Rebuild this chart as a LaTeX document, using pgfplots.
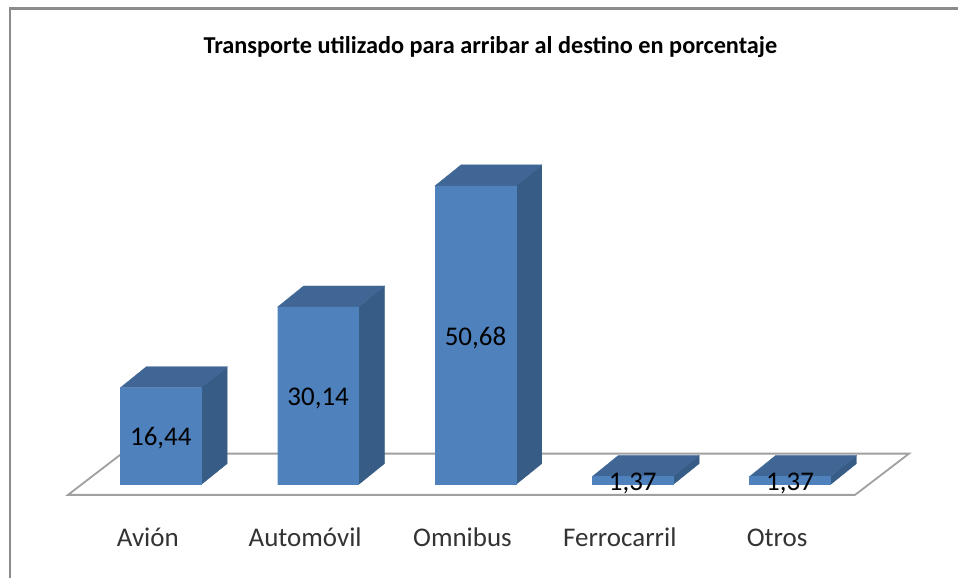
\documentclass[border=0pt]{standalone}
\usepackage{pgfplots}
\pgfplotsset{compat=1.18}
\usepackage{fontspec}
\setmainfont{Carlito}
\definecolor{barfront}{HTML}{4F81BD}
\definecolor{bartop}{HTML}{406695}
\definecolor{barside}{HTML}{375C85}
\definecolor{floorline}{HTML}{A0A0A0}
\definecolor{framegray}{HTML}{8C8C8C}
\begin{document}
\begin{tikzpicture}
\begin{axis}[
  scale only axis, width=959pt, height=579pt,
  xmin=-1.0222, xmax=5.0667, ymin=-15.93, ymax=82.2,
  axis line style={draw=none},
  major tick length=0pt,
  ytick=\empty,
  xtick={0,1,2,3,4},
  xticklabels={Avión,Automóvil,Omnibus,Ferrocarril,Otros},
  xticklabel style={anchor=center, yshift=41pt, xshift=-13pt, font=\fontsize{27}{29}\selectfont, text=black!80},
  clip=false,
]
% frame
\addplot[draw=framegray, line width=2.2pt, forget plot] coordinates {(-0.959,-15.93) (-0.959,80.76) (5.0667,80.76)};
% floor
\addplot[draw=floorline, line width=1.8pt, fill=white] coordinates {(-0.590,-1.75) (4.413,-1.75) (4.756,5.25) (-0.248,5.25)} -- cycle;
% side faces
\addplot[draw=barside, line width=0.3pt, fill=barside] coordinates {(0.257,0) (0.422,3.56) (0.422,20.00) (0.257,16.44)} -- cycle;
\addplot[draw=barside, line width=0.3pt, fill=barside] coordinates {(1.257,0) (1.422,3.56) (1.422,33.70) (1.257,30.14)} -- cycle;
\addplot[draw=barside, line width=0.3pt, fill=barside] coordinates {(2.257,0) (2.422,3.56) (2.422,54.24) (2.257,50.68)} -- cycle;
\addplot[draw=barside, line width=0.3pt, fill=barside] coordinates {(3.257,0) (3.422,3.56) (3.422,4.93) (3.257,1.37)} -- cycle;
\addplot[draw=barside, line width=0.3pt, fill=barside] coordinates {(4.257,0) (4.422,3.56) (4.422,4.93) (4.257,1.37)} -- cycle;
% top faces
\addplot[draw=bartop, line width=0.3pt, fill=bartop] coordinates {(-0.257,16.44) (0.257,16.44) (0.422,20.00) (-0.092,20.00)} -- cycle;
\addplot[draw=bartop, line width=0.3pt, fill=bartop] coordinates {(0.743,30.14) (1.257,30.14) (1.422,33.70) (0.908,33.70)} -- cycle;
\addplot[draw=bartop, line width=0.3pt, fill=bartop] coordinates {(1.743,50.68) (2.257,50.68) (2.422,54.24) (1.908,54.24)} -- cycle;
\addplot[draw=bartop, line width=0.3pt, fill=bartop] coordinates {(2.743,1.37) (3.257,1.37) (3.422,4.93) (2.908,4.93)} -- cycle;
\addplot[draw=bartop, line width=0.3pt, fill=bartop] coordinates {(3.743,1.37) (4.257,1.37) (4.422,4.93) (3.908,4.93)} -- cycle;
% front faces
\addplot[ybar, bar width=81pt, bar shift=0pt, draw=barfront, line width=0.3pt, fill=barfront] coordinates {(0,16.44) (1,30.14) (2,50.68) (3,1.37) (4,1.37)};
% data labels, centred on the bars
\addplot[only marks, mark=none, nodes near coords, point meta=explicit symbolic,
  every node near coord/.style={anchor=center, yshift=-2.5pt, font=\fontsize{27}{29}\selectfont, text=black}]
  table[meta=label, row sep=\\] {
  x y label\\
  0 8.22 {16,44}\\
  1 15.07 {30,14}\\
  2 25.34 {50,68}\\
  3 0.685 {1,37}\\
  4 0.685 {1,37}\\
};
\node[font=\bfseries\fontsize{24.3}{27}\selectfont, text=black] at (axis cs:2.095,74.2) {Transporte utilizado para arribar al destino en porcentaje};
\end{axis}
\end{tikzpicture}
\end{document}
